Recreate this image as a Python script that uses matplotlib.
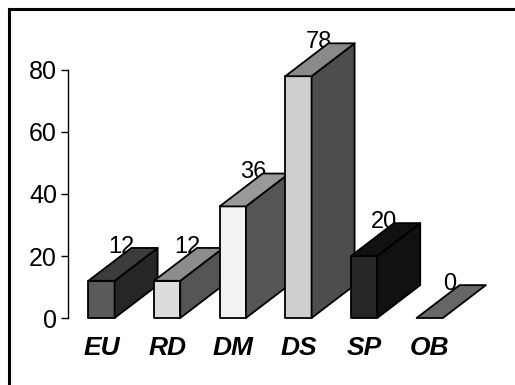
import numpy as np
import matplotlib.pyplot as plt
from matplotlib.patches import Polygon
from matplotlib.lines import Line2D

plt.rcParams['font.family'] = ['Liberation Sans', 'DejaVu Sans']

# data
categories = ['EU', 'RD', 'DM', 'DS', 'SP', 'OB']
values = [12, 12, 36, 78, 20, 0]
front_colors = ['#5a5a5a', '#dcdcdc', '#f2f2f2', '#cfcfcf', '#262626', '#666666']
top_colors = ['#3c3c3c', '#8c8c8c', '#999999', '#8a8a8a', '#111111', '#666666']
side_colors = ['#262626', '#555555', '#555555', '#4d4d4d', '#111111', '#666666']
yticks = [0, 20, 40, 60, 80]

# 3d look
w = 0.40      # front face width
dx = 0.655    # depth offset in x (category units)
dy = 10.6     # depth offset in y (value units)

fig = plt.figure(figsize=(5.15, 3.85), dpi=100)
ax = fig.add_axes([68 / 515, 67 / 385, (500 - 68) / 515, 279 / 385])
ax.set_xlim(-0.51, 6.07)
ax.set_ylim(0, 90)

x = np.arange(len(categories))
for i, v in enumerate(values):
    l, r = x[i] - w / 2, x[i] + w / 2
    z = 3 + i
    kw = dict(edgecolor='black', linewidth=1.3, joinstyle='round', clip_on=False, zorder=z)
    if v > 0:
        ax.add_patch(Polygon([(l, 0), (r, 0), (r, v), (l, v)], facecolor=front_colors[i], **kw))
        ax.add_patch(Polygon([(r, 0), (r + dx, dy), (r + dx, v + dy), (r, v)],
                             facecolor=side_colors[i], **kw))
    ax.add_patch(Polygon([(l, v), (r, v), (r + dx, v + dy), (l + dx, v + dy)],
                         facecolor=top_colors[i], **kw))
    # value label sits just behind the top face
    ax.text(x[i] + dx / 2 - 0.02, v + dy + 0.4, str(v), ha='center', va='center',
            fontsize=17, color='black', zorder=1, clip_on=False)

ax.set_xticks(x)
ax.set_xticklabels(categories, fontsize=19, fontweight='bold', fontstyle='italic')
ax.tick_params(axis='x', length=0, pad=13)
ax.set_yticks(yticks)
ax.set_yticklabels([str(t) for t in yticks], fontsize=18)
ax.tick_params(axis='y', length=5, width=1.0, pad=3, direction='out')

for s in ['top', 'right', 'bottom']:
    ax.spines[s].set_visible(False)
ax.spines['left'].set_bounds(0, 80)
ax.spines['left'].set_linewidth(1.0)
ax.patch.set_visible(False)

# frame around the chart (left and top edges)
fig.add_artist(Line2D([8.5 / 515, 8.5 / 515], [0, 1 - 8.5 / 385], color='black', linewidth=2.2))
fig.add_artist(Line2D([8.5 / 515, 1], [1 - 8.5 / 385, 1 - 8.5 / 385], color='black', linewidth=2.2))

fig.savefig('out.png', dpi=100)
